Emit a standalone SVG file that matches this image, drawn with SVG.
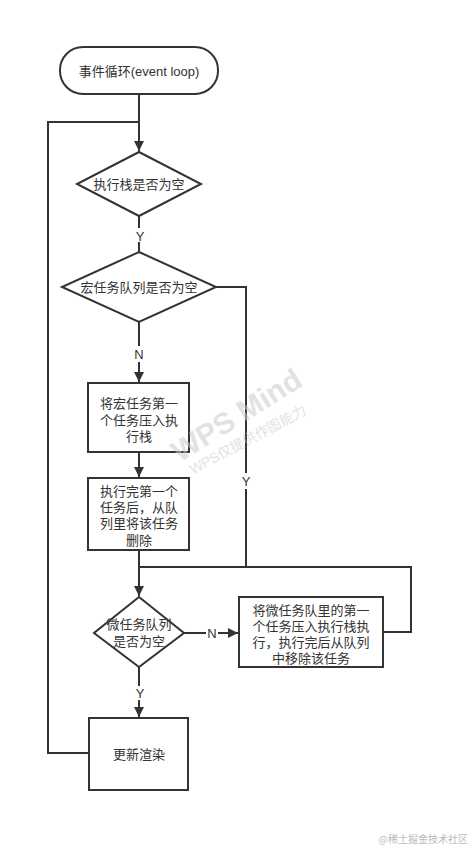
<svg xmlns="http://www.w3.org/2000/svg" width="474" height="850" viewBox="0 0 474 850">
<defs>
<marker id="arr" markerWidth="10" markerHeight="14" refX="10" refY="7" orient="auto" markerUnits="userSpaceOnUse">
<path d="M0,2 L10,7 L0,12 Z" fill="#333"/>
</marker>
<style>
.shape{fill:#fff;stroke:#333;stroke-width:2}
.ln{fill:none;stroke:#333;stroke-width:2}
.t{font-family:"Liberation Sans","Noto Sans CJK SC",sans-serif;font-size:13px;fill:#333;text-anchor:middle;dominant-baseline:central}
.lbl{font-family:"Liberation Sans","Noto Sans CJK SC",sans-serif;font-size:13px;fill:#333;text-anchor:middle;dominant-baseline:central}
</style>
</defs>
<rect width="474" height="850" fill="#fff"/>
<g id="connectors">
<path class="ln" d="M139,94 V151" marker-end="url(#arr)"/>
<path class="ln" d="M139,216 V252"/>
<path class="ln" d="M139,322 V382" marker-end="url(#arr)"/>
<path class="ln" d="M139,452 V477" marker-end="url(#arr)"/>
<path class="ln" d="M139,550 V567"/>
<path class="ln" d="M216,287 H246 V567"/>
<path class="ln" d="M383,632 H411 V567 H139 V596" marker-end="url(#arr)"/>
<path class="ln" d="M184,633 H238" marker-end="url(#arr)"/>
<path class="ln" d="M139,667 V717" marker-end="url(#arr)"/>
<path class="ln" d="M89,753 H48 V122 H139"/>
<rect x="133" y="228" width="12" height="14" fill="#fff"/>
<text class="lbl" x="140" y="236">Y</text>
<rect x="133" y="346" width="12" height="16" fill="#fff"/>
<text class="lbl" x="139" y="354">N</text>
<rect x="240" y="473" width="12" height="16" fill="#fff"/>
<text class="lbl" x="246" y="481">Y</text>
<rect x="206" y="626" width="12" height="14" fill="#fff"/>
<text class="lbl" x="212" y="633">N</text>
<rect x="133" y="686" width="12" height="14" fill="#fff"/>
<text class="lbl" x="140" y="693">Y</text>
</g>
<g id="start">
<rect class="shape" x="60" y="47" width="158" height="47" rx="23" ry="23"/>
<text class="t" x="139" y="71">事件循环(event loop)</text>
</g>
<g id="stackEmpty">
<polygon class="shape" points="139,152 201,184 139,216 77,184"/>
<text class="t" x="139" y="184">执行栈是否为空</text>
</g>
<g id="macroEmpty">
<polygon class="shape" points="139,252 216,287 139,322 62,287"/>
<text class="t" x="139" y="287">宏任务队列是否为空</text>
</g>
<g id="pushMacro">
<rect class="shape" x="88" y="383" width="101" height="69"/>
<text class="t" x="139" y="403">将宏任务第一</text>
<text class="t" x="139" y="420">个任务压入执</text>
<text class="t" x="139" y="436">行栈</text>
</g>
<g id="removeMacro">
<rect class="shape" x="88" y="478" width="101" height="72"/>
<text class="t" x="139" y="491">执行完第一个</text>
<text class="t" x="139" y="507">任务后，从队</text>
<text class="t" x="139" y="523">列里将该任务</text>
<text class="t" x="139" y="540">删除</text>
</g>
<g id="microEmpty">
<polygon class="shape" points="139,597 184,633 139,667 94,633"/>
<text class="t" x="139" y="624">微任务队列</text>
<text class="t" x="139" y="641">是否为空</text>
</g>
<g id="pushMicro">
<rect class="shape" x="239" y="597" width="144" height="70"/>
<text class="t" x="311" y="610">将微任务队里的第一</text>
<text class="t" x="311" y="626">个任务压入执行栈执</text>
<text class="t" x="311" y="642">行，执行完后从队列</text>
<text class="t" x="311" y="658">中移除该任务</text>
</g>
<g id="render">
<rect class="shape" x="89" y="718" width="99" height="72"/>
<text class="t" x="139" y="754">更新渲染</text>
</g>
<g id="watermark" opacity="0.55">
<text x="0" y="0" transform="translate(242,424) rotate(-32)" font-family="Liberation Sans,sans-serif" font-size="30" font-weight="bold" fill="#ccc" text-anchor="middle">WPS Mind</text>
<text x="0" y="0" transform="translate(250,444) rotate(-28)" font-family="Liberation Sans,'Noto Sans CJK SC',sans-serif" font-size="14" fill="#ccc" text-anchor="middle">WPS仅提供作图能力</text>
</g>
<text x="468" y="843" font-family="'Noto Sans CJK SC',sans-serif" font-size="10" fill="#bbb" text-anchor="end">@稀土掘金技术社区</text>
</svg>
